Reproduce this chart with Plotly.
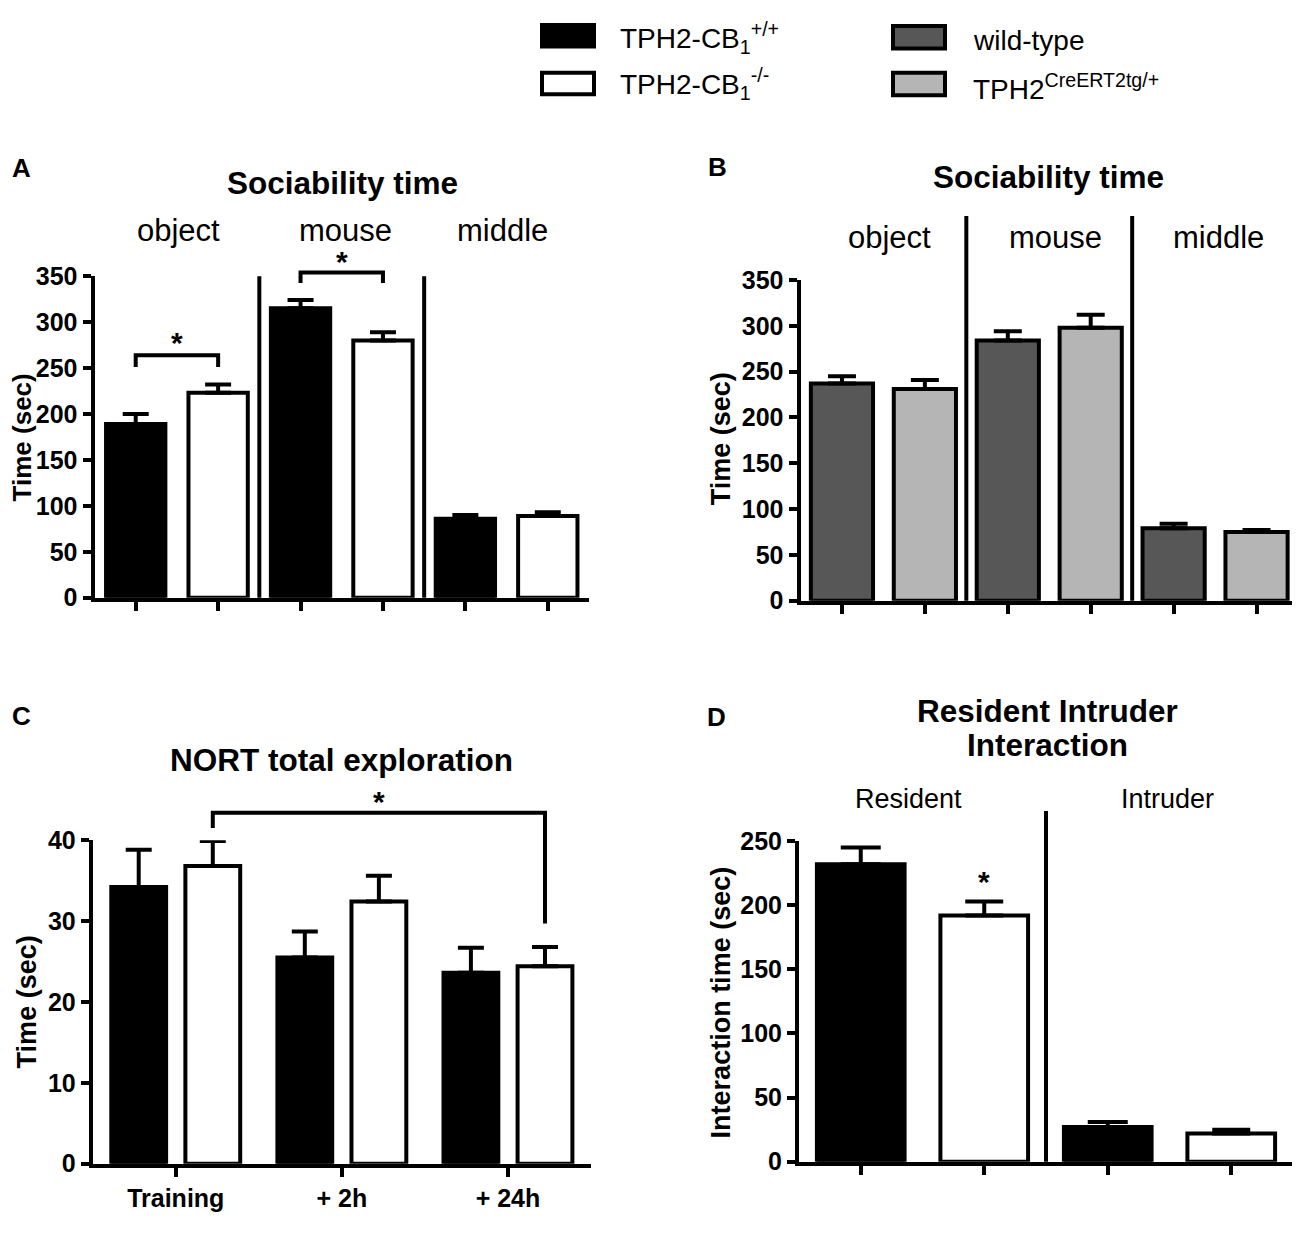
import plotly.graph_objects as go

W, H = 1300, 1242
OFF = 8  # page margin in the browser
FONT = "Liberation Sans"

# ---------------- data ----------------
# Panel A: TPH2-CB1 sociability time (sec), mean and SEM
a_groups = ["object", "mouse", "middle"]
a_pos_mean = [189, 315, 86]
a_pos_sem = [11, 9, 4]
a_neg_mean = [223, 280, 89]
a_neg_sem = [9, 9, 4]

# Panel B: TPH2-CreERT2 sociability time (sec)
b_groups = ["object", "mouse", "middle"]
b_wt_mean = [237, 284, 79]
b_wt_sem = [8, 10, 5]
b_tg_mean = [231, 298, 75]
b_tg_sem = [10, 14, 2]

# Panel C: NORT total exploration (sec)
c_sessions = ["Training", "+ 2h", "+ 24h"]
c_pos_mean = [34.2, 25.5, 23.6]
c_pos_sem = [4.6, 3.2, 3.1]
c_neg_mean = [36.8, 32.4, 24.4]
c_neg_sem = [3.1, 3.2, 2.4]

# Panel D: resident-intruder interaction time (sec)
d_groups = ["Resident", "Intruder"]
d_pos_mean = [232, 27]
d_pos_sem = [13, 4]
d_neg_mean = [192, 22]
d_neg_sem = [11, 3]

legend_labels = ["TPH2-CB<sub>1</sub><sup>+/+</sup>", "TPH2-CB<sub>1</sub><sup>-/-</sup>",
                 "wild-type", "TPH2<sup>CreERT2tg/+</sup>"]

BLACK, WHITE, DGRAY, LGRAY = "#000000", "#ffffff", "#575757", "#b5b5b5"


def fx(x):
    return (x - OFF) / W


def fy(y):
    return 1 - (y - OFF) / H


fig = go.Figure()


def bar(xs, ys, es, fill, ax, width, cap):
    n = len(ys)
    fig.add_trace(go.Bar(
        x=xs, y=ys, width=width,
        marker=dict(color=fill, line=dict(color="black", width=4)),
        error_y=dict(type="data", array=es, arrayminus=[0] * n, symmetric=False,
                     color="black", thickness=4, width=cap),
        xaxis="x" + ax, yaxis="y" + ax, showlegend=False, hoverinfo="skip"))


# A
bar([2 * i for i in range(3)], a_pos_mean, a_pos_sem, BLACK, "", 0.72, 13)
bar([2 * i + 1 for i in range(3)], a_neg_mean, a_neg_sem, WHITE, "", 0.72, 13)
# B
bar([2 * i for i in range(3)], b_wt_mean, b_wt_sem, DGRAY, "2", 0.75, 14)
bar([2 * i + 1 for i in range(3)], b_tg_mean, b_tg_sem, LGRAY, "2", 0.75, 14)
# C
bar([i - 0.223 for i in range(3)], c_pos_mean, c_pos_sem, BLACK, "3", 0.33, 13)
bar([i + 0.223 for i in range(3)], c_neg_mean, c_neg_sem, WHITE, "3", 0.33, 13)
# D
bar([2 * i for i in range(2)], d_pos_mean, d_pos_sem, BLACK, "4", 0.71, 20)
bar([2 * i + 1 for i in range(2)], d_neg_mean, d_neg_sem, WHITE, "4", 0.71, 19)

tickfont = dict(family=FONT, size=25, color="black", weight="bold")


def xaxis(dom, rng, anchor, tickvals, ticktext=None):
    d = dict(domain=[fx(dom[0]), fx(dom[1])], range=rng, anchor=anchor,
             showline=True, linewidth=4, linecolor="black", ticks="outside",
             tickwidth=4, ticklen=9, tickcolor="black", tickvals=tickvals,
             showgrid=False, zeroline=False, tickfont=tickfont, fixedrange=True)
    if ticktext is None:
        d["showticklabels"] = False
    else:
        d["ticktext"] = ticktext
    return d


def yaxis(dom, rng, anchor, dtick):
    return dict(domain=[fy(dom[1]), fy(dom[0])], range=rng, anchor=anchor,
                showline=True, linewidth=4, linecolor="black", ticks="outside",
                tickwidth=4, ticklen=8, tickcolor="black", dtick=dtick,
                showgrid=False, zeroline=False, tickfont=tickfont, fixedrange=True)


fig.update_layout(
    width=W, height=H, margin=dict(l=0, r=0, t=0, b=0),
    paper_bgcolor="white", plot_bgcolor="white", barmode="overlay",
    font=dict(family=FONT, color="black"),
    xaxis=xaxis((94.5, 589), [-0.5, 5.5], "y", list(range(6))),
    yaxis=yaxis((268, 597), [0, 350], "x", 50),
    xaxis2=xaxis((800.5, 1298), [-0.5, 5.5], "y2", list(range(6))),
    yaxis2=yaxis((272, 600), [0, 350], "x2", 50),
    xaxis3=xaxis((92.7, 591), [-0.5, 2.5], "y3", list(range(3)), c_sessions),
    yaxis3=yaxis((845, 1176), [0, 40], "x3", 10),
    xaxis4=xaxis((799, 1293), [-0.5, 3.5], "y4", list(range(4))),
    yaxis4=yaxis((846, 1174), [0, 250], "x4", 50),
)

shapes = []
ann = []
LW = 4


def dref(ax):
    return ("y" + ax + " domain") if ax else "y domain"


def vline(ax, x, top_frac):
    shapes.append(dict(type="line", xref="x" + ax, yref=dref(ax),
                       x0=x, x1=x, y0=0, y1=top_frac, line=dict(color="black", width=LW)))


# group separators
vline("", 1.5, 1.0)
vline("", 3.5, 1.0)
vline("2", 1.5, 1.2)
vline("2", 3.5, 1.2)
vline("4", 1.5, 1.094)


def bracket(ax, x0, x1, ytop, yl0, yl1, ymax):
    path = "M {a},{b} L {a},{c} L {d},{c} L {d},{e}".format(
        a=x0, b=yl0 / ymax, c=ytop / ymax, d=x1, e=yl1 / ymax)
    shapes.append(dict(type="path", xref="x" + ax, yref=dref(ax), path=path,
                       line=dict(color="black", width=LW)))


def star(ax, x, y, ymax):
    ann.append(dict(text="*", xref="x" + ax, yref=dref(ax), x=x, y=y / ymax,
                    showarrow=False, yanchor="middle", yshift=-3,
                    font=dict(size=30, family=FONT, color="black", weight="bold")))


# A significance brackets
bracket("", 0, 1, 264, 251, 251, 350)
star("", 0.5, 281, 350)
bracket("", 2, 3, 354, 342.6, 342.6, 350)
star("", 2.5, 369, 350)
# C bracket
bracket("3", 0.223, 2.223, 43.4, 41.5, 29.7, 40)
star("3", 1.223, 45.2, 40)
# D star
star("4", 1, 220.5, 250)


def text(x, y, s, size, bold=False, angle=0, xanchor="center"):
    ann.append(dict(text=s, xref="paper", yref="paper", x=fx(x), y=fy(y), showarrow=False,
                    xanchor=xanchor, yanchor="middle", textangle=angle,
                    font=dict(size=size, family=FONT, color="black",
                              weight="bold" if bold else "normal")))


# panel letters
for L, (x, y) in zip("ABCD", [(21, 157), (717, 156), (21, 718), (716, 719)]):
    text(x, y, L, 26, True)

# titles
text(342.5, 173, "Sociability time", 31.5, True)
text(1048.5, 167, "Sociability time", 31.5, True)
text(341, 763, "NORT total exploration", 31.5, True)
text(1047, 713, "Resident Intruder", 31.5, True)
text(1047, 748, "Interaction", 31.5, True)

# group labels
for g, x in zip(a_groups, [178, 345, 502]):
    text(x, 221, g, 31)
for g, x in zip(b_groups, [889, 1055, 1218]):
    text(x, 228, g, 31)
for g, x in zip(d_groups, [908, 1167]):
    text(x, 803, g, 27)

# y-axis titles
text(22, 433, "Time (sec)", 26, True, angle=-90)
text(721, 435, "Time (sec)", 27, True, angle=-90)
text(27, 1011, "Time (sec)", 27, True, angle=-90)
text(721, 1011, "Interaction time (sec)", 27, True, angle=-90)

# legend
leg_boxes = [((542, 594), (11, 33), BLACK), ((542, 594), (60, 82), WHITE),
             ((893, 945), (12, 35), DGRAY), ((893, 945), (60, 83), LGRAY)]
leg_text = [(618, 24), (618, 71), (971, 27), (971, 74)]
for (xr, yr, col), lab, (tx, ty) in zip(leg_boxes, legend_labels, leg_text):
    shapes.append(dict(type="rect", xref="paper", yref="paper",
                       x0=fx(xr[0]), x1=fx(xr[1]), y0=fy(yr[1]), y1=fy(yr[0]),
                       fillcolor=col, line=dict(color="black", width=4)))
    text(tx, ty, lab, 28, xanchor="left")

fig.update_layout(shapes=shapes, annotations=ann)
fig.write_html("out.html")
